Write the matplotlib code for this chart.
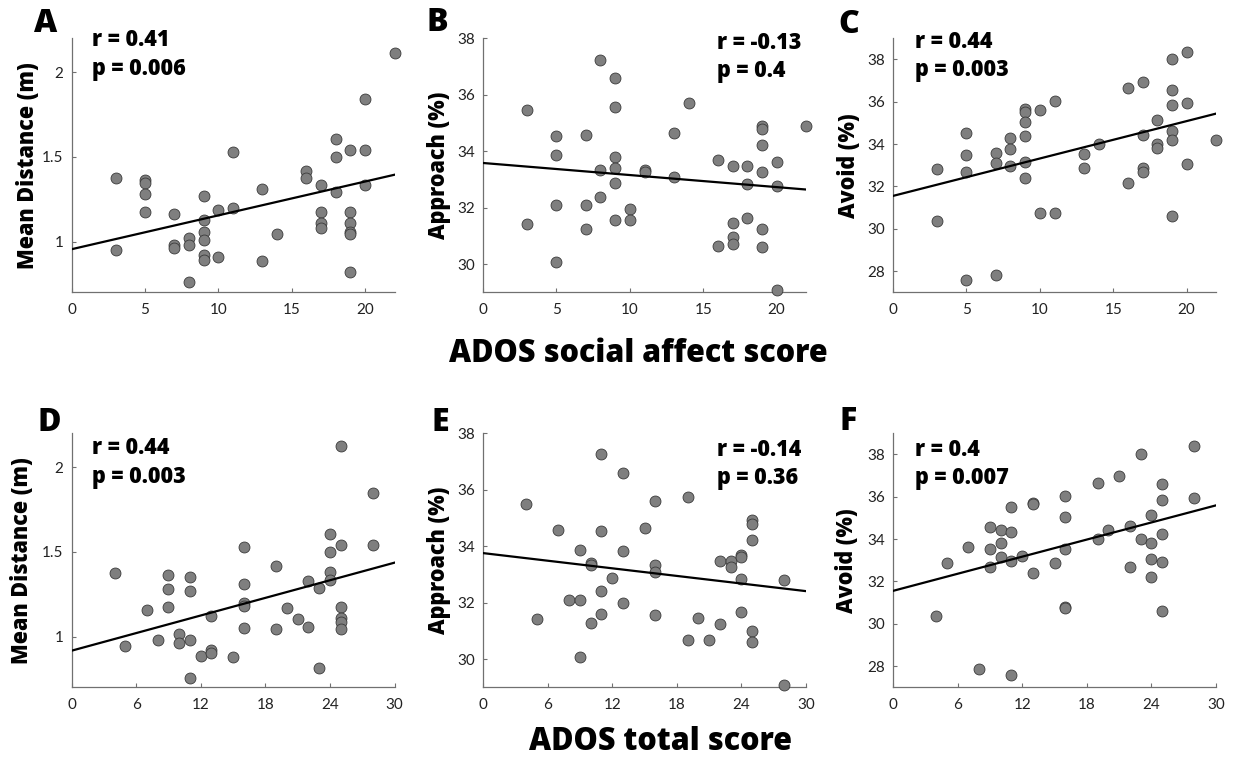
import numpy as np
import matplotlib
matplotlib.use("Agg")
import matplotlib.pyplot as plt
from matplotlib.ticker import FormatStrFormatter

# ====================================
# Data
# ====================================
# ADOS social affect score (panels A-C)
sa_score = [3, 3, 5, 5, 5, 5, 7, 7, 7, 8, 8, 8, 9, 9, 9, 9, 9, 9, 10, 10,
            11, 11, 13, 13, 14, 16, 16, 17, 17, 17, 17, 18, 18, 18,
            19, 19, 19, 19, 19, 19, 20, 20, 20, 22]
sa_distance = [1.373, 0.947, 1.361, 1.347, 1.280, 1.173, 1.161, 0.980, 0.961,
               1.018, 0.980, 0.759, 1.269, 1.127, 1.057, 1.010, 0.920, 0.890,
               1.184, 0.906, 1.527, 1.196, 1.312, 0.882, 1.045, 1.414, 1.376,
               1.331, 1.173, 1.108, 1.080, 1.606, 1.500, 1.292,
               1.543, 1.175, 1.112, 1.059, 1.043, 0.818, 1.843, 1.539, 1.335, 2.116]

sa_score_b = [3, 3, 5, 5, 5, 5, 7, 7, 7, 8, 8, 8, 9, 9, 9, 9, 9, 9, 10, 10,
              11, 11, 13, 13, 14, 16, 16, 17, 17, 17, 17, 18, 18, 18,
              19, 19, 19, 19, 19, 19, 20, 20, 20, 22]
sa_approach = [35.47, 31.43, 34.54, 33.85, 32.08, 30.07, 34.57, 32.08, 31.26,
               37.24, 33.33, 32.38, 36.58, 35.57, 33.80, 33.39, 32.87, 31.57,
               31.96, 31.56, 33.32, 33.28, 34.63, 33.10, 35.72, 33.69, 30.65,
               33.46, 31.45, 30.97, 30.70, 33.46, 32.82, 31.65,
               34.88, 34.77, 34.21, 33.26, 31.23, 30.59, 33.62, 32.76, 29.08, 34.91]

sa_score_c = [3, 3, 5, 5, 5, 5, 7, 7, 7, 8, 8, 8, 9, 9, 9, 9, 9, 9, 10, 10,
              11, 11, 13, 13, 14, 16, 16, 17, 17, 17, 17, 18, 18, 18,
              19, 19, 19, 19, 19, 19, 20, 20, 20, 22]
sa_avoid = [32.84, 30.35, 34.54, 33.50, 32.67, 27.56, 33.60, 33.13, 27.84,
            34.30, 33.77, 32.97, 35.66, 35.51, 35.04, 34.38, 33.16, 32.39,
            35.63, 30.74, 36.02, 30.77, 33.52, 32.86, 33.99, 36.65, 32.18,
            36.95, 34.41, 32.89, 32.66, 35.12, 34.02, 33.82,
            38.00, 36.57, 35.84, 34.61, 34.21, 30.60, 38.36, 35.93, 33.05, 34.19]

# ADOS total score (panels D-F)
tot_score_d = [4, 5, 7, 8, 9, 9, 9, 10, 10, 11, 11, 11, 11, 12, 13, 13, 13, 15,
               16, 16, 16, 16, 16, 19, 19, 20, 21, 22, 22, 23, 23,
               24, 24, 24, 24, 25, 25, 25, 25, 25, 25, 28, 28]
tot_distance = [1.373, 0.945, 1.158, 0.980, 1.366, 1.281, 1.172, 1.016, 0.960,
                1.350, 1.267, 0.980, 0.757, 0.885, 1.123, 0.921, 0.901, 0.879,
                1.528, 1.312, 1.198, 1.178, 1.049, 1.415, 1.043, 1.168, 1.105,
                1.330, 1.055, 1.287, 0.812,
                1.605, 1.500, 1.379, 1.336, 2.123, 1.543, 1.172, 1.109, 1.083, 1.043,
                1.850, 1.540]

tot_score_e = [4, 5, 7, 8, 9, 9, 9, 10, 10, 10, 11, 11, 11, 11, 12, 13, 13, 13,
               15, 16, 16, 16, 16, 19, 19, 20, 21, 22, 22, 23, 23,
               24, 24, 24, 24, 25, 25, 25, 25, 25, 28, 28]
tot_approach = [35.50, 31.43, 34.58, 32.08, 33.87, 32.08, 30.09, 33.42, 33.33,
                31.27, 37.27, 34.55, 32.40, 31.58, 32.88, 36.61, 33.82, 31.98,
                34.64, 35.59, 33.33, 33.10, 31.57, 35.73, 30.67, 31.46, 30.68,
                33.48, 31.24, 33.48, 33.26,
                33.70, 33.63, 32.83, 31.66, 34.93, 34.79, 34.22, 31.00, 30.60,
                32.81, 29.09]

tot_score_f = [4, 5, 7, 8, 9, 9, 9, 10, 10, 10, 11, 11, 11, 11, 12, 13, 13, 13,
               15, 16, 16, 16, 16, 16, 19, 19, 20, 21, 22, 22, 23, 23,
               24, 24, 24, 24, 25, 25, 25, 25, 25, 28, 28]
tot_avoid = [30.38, 32.86, 33.63, 27.87, 34.57, 33.52, 32.69, 34.41, 33.80,
             33.17, 35.51, 34.32, 32.98, 27.59, 33.20, 35.70, 35.66, 32.40,
             32.87, 36.06, 35.05, 33.55, 30.81, 30.76, 36.67, 34.02, 34.43,
             36.97, 34.61, 32.66, 38.02, 34.02,
             35.12, 33.80, 33.05, 32.20, 36.59, 35.87, 34.22, 32.91, 30.62,
             38.38, 35.93]

letters = ["A", "B", "C", "D", "E", "F"]
r_text = ["r = 0.41", "r = -0.13", "r = 0.44", "r = 0.44", "r = -0.14", "r = 0.4"]
p_text = ["p = 0.006", "p = 0.4", "p = 0.003", "p = 0.003", "p = 0.36", "p = 0.007"]
ylabels = ["Mean Distance (m)", "Approach (%)", "Avoid (%)"] * 2

xs = [sa_score, sa_score_b, sa_score_c, tot_score_d, tot_score_e, tot_score_f]
ys = [sa_distance, sa_approach, sa_avoid, tot_distance, tot_approach, tot_avoid]

# ====================================
# Layout
# ====================================
W, H = 1237, 758
fig = plt.figure(figsize=(W / 100, H / 100), dpi=100)

bold_font = ["Open Sans", "DejaVu Sans"]
tick_font = ["Lato", "DejaVu Sans"]

col_left = [71.5, 483, 893]
row_bottom = [292.3, 687.3]
ax_w, ax_h = 323, 254

xlims = [22, 22, 22, 30, 30, 30]
ylims = [(0.7, 2.2), (29, 38), (27, 39)] * 2
xticks = [[0, 5, 10, 15, 20]] * 3 + [[0, 6, 12, 18, 24, 30]] * 3
yticks = [[1, 1.5, 2], [30, 32, 34, 36, 38], [28, 30, 32, 34, 36, 38]] * 2

# text positions (axes fraction)
txt_x = [0.063, 0.724, 0.068, 0.063, 0.724, 0.068]
r_y = [0.993, 0.981, 0.985, 0.942, 0.934, 0.934]
p_y = [0.879, 0.871, 0.875, 0.828, 0.824, 0.824]
ylab_x = [-0.134, -0.136, -0.136, -0.152, -0.136, -0.142]
letter_xy = [(46, 24), (437, 23), (849, 25), (49, 423), (440, 423), (848, 422)]

for i in range(6):
    row, col = divmod(i, 3)
    left = col_left[col] / W
    bottom = 1 - row_bottom[row] / H
    ax = fig.add_axes([left, bottom, ax_w / W, ax_h / H])

    x = np.array(xs[i], dtype=float)
    y = np.array(ys[i], dtype=float)

    ax.scatter(x, y, s=62, c="#7f7f7f", edgecolors="#3a3a3a",
               linewidths=0.6, zorder=3, clip_on=False)

    # least squares line
    slope, icpt = np.polyfit(x, y, 1)
    xx = np.array([0, xlims[i]])
    ax.plot(xx, slope * xx + icpt, color="black", lw=1.6, zorder=4)

    ax.set_xlim(0, xlims[i])
    ax.set_ylim(*ylims[i])
    ax.set_xticks(xticks[i])
    ax.set_yticks(yticks[i])
    ax.yaxis.set_major_formatter(FormatStrFormatter("%g"))

    for s in ["top", "right"]:
        ax.spines[s].set_visible(False)
    for s in ["left", "bottom"]:
        ax.spines[s].set_color("#707070")
        ax.spines[s].set_linewidth(0.9)

    ax.tick_params(direction="in", length=3, width=0.8, color="#707070",
                   labelsize=11, labelcolor="#222222")
    ax.tick_params(axis="y", pad=6)
    ax.tick_params(axis="x", pad=8)
    for lab in ax.get_xticklabels() + ax.get_yticklabels():
        lab.set_family(tick_font)

    ax.set_ylabel(ylabels[i], fontsize=15.5, fontweight="heavy",
                  family=bold_font, va="center")
    ax.yaxis.set_label_coords(ylab_x[i], 0.5)

    ax.text(txt_x[i], r_y[i], r_text[i], transform=ax.transAxes,
            fontsize=15.5, fontweight="heavy", family=bold_font,
            ha="left", va="center")
    ax.text(txt_x[i], p_y[i], p_text[i], transform=ax.transAxes,
            fontsize=15.5, fontweight="heavy", family=bold_font,
            ha="left", va="center")

    lx, ly = letter_xy[i]
    fig.text(lx / W, 1 - ly / H, letters[i], fontsize=23, fontweight="heavy",
             family=bold_font, ha="center", va="center")

fig.text(638 / W, 1 - 354 / H, "ADOS social affect score", fontsize=22,
         fontweight="heavy", family=bold_font, ha="center", va="center")
fig.text(660 / W, 1 - 742 / H, "ADOS total score", fontsize=22,
         fontweight="heavy", family=bold_font, ha="center", va="center")

fig.savefig("out.png", dpi=100, facecolor="white")
